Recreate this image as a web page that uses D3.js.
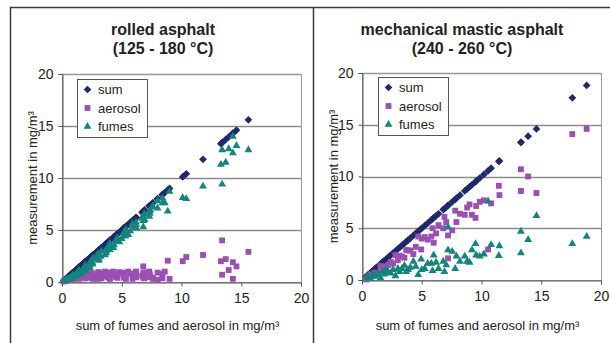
<!DOCTYPE html>
<html>
<head>
<meta charset="utf-8">
<script src="https://cdn.jsdelivr.net/npm/d3@7"></script>
<style>
  body { margin: 0; background: #fff; }
  svg { display: block; font-family: "Liberation Sans", Arial, sans-serif; }
</style>
</head>
<body>
<div id="chart"></div>
<script>
// rolled asphalt samples: fumes and aerosol in mg/m³ (sum = fumes + aerosol)
const rolledFumes = [
  0.08, 0.15, 0.22, 0.28, 0.33, 0.41, 0.45, 0.53, 0.58, 0.66, 0.7, 0.78, 0.84, 0.92,
  0.95, 1.05, 1.12, 1.2, 1.33, 1.38, 1.5, 1.58, 1.7, 1.78,
  1.85, 2.0, 2.08, 2.25, 2.3, 2.45, 2.6, 2.62,
  2.8, 2.95, 3.0, 3.15, 3.3, 3.38, 3.55,
  3.7, 3.85, 3.95, 4.15, 4.25, 4.45,
  4.55, 4.7, 4.9, 5.05, 5.25, 5.35,
  5.5, 5.3, 5.75, 5.9, 6.1,
  6.3, 6.55, 6.6, 6.9, 7.1,
  7.2, 7.6, 7.6, 6.8, 8.05, 8.7,
  1.0, 1.6, 2.2, 2.7, 3.1, 3.6, 4.0, 4.4, 4.8, 5.2, 5.6, 6.0, 6.4, 6.8, 7.3, 7.8,
  8.1, 8.0, 9.2, 14.0, 12.7, 12.8, 12.4, 13.1, 11.3, 11.5, 9.4, 12.7
];
const rolledAerosol = [
  0.05, 0.1, 0.3, 0.15, 0.4, 0.2, 0.55, 0.3, 0.65, 0.25, 0.5, 0.8, 0.35, 0.7,
  0.45, 0.9, 0.3, 0.75, 0.5, 0.95, 0.6, 0.35, 0.85, 0.55,
  0.7, 0.4, 0.95, 0.6, 0.3, 0.8, 1.0, 0.5,
  0.9, 0.35, 0.7, 0.55, 1.0, 0.45, 0.8,
  0.3, 0.95, 0.6, 0.85, 0.4, 0.7,
  1.0, 0.5, 0.8, 0.3, 0.9, 0.6,
  0.7, 1.5, 0.45, 0.9, 0.6,
  1.0, 0.35, 0.75, 0.5, 0.9,
  0.4, 0.8, 1.0, 2.05, 0.35, 0.3,
  0.6, 0.7, 0.9, 0.3, 0.9, 0.4, 0.5, 0.9, 0.4, 1.0, 0.3, 0.9, 0.4, 0.5, 0.3, 0.2,
  2.0, 2.4, 2.6, 0.3, 0.7, 1.15, 1.9, 1.5, 2.0, 2.2, 4.0, 2.9
];

// mechanical mastic asphalt samples
const masticFumes = [
  0.3, 0.25, 0.15, 0.5, 0.35, 0.5, 0.6, 0.2, 0.8, 0.55,
  0.97, 0.75, 0.65, 1.0, 0.4, 1.1, 0.8, 1.1, 1.4, 0.8,
  1.0, 1.2, 1.8, 1.3, 0.5, 2.0, 1.0, 1.1, 1.6, 1.6,
  0.9, 2.4, 1.7, 1.1, 1.8, 0.8, 5.1, 2.9, 1.45, 2.75,
  1.1, 2.3, 1.8, 2.3, 1.8, 1.7, 2.9, 2.4, 3.5, 2.3,
  2.5, 7.6, 3.4, 2.35, 3.3, 4.7, 2.6, 3.9, 6.2, 3.5, 4.2
];
const masticAerosol = [
  0.05, 0.25, 0.55, 0.4, 0.7, 0.65, 0.7, 1.35, 0.9, 1.3,
  1.05, 1.45, 1.75, 1.6, 2.4, 1.9, 2.35, 2.25, 2.15, 2.9,
  2.85, 2.85, 2.5, 3.2, 4.2, 2.95, 4.0, 4.15, 3.9, 4.2,
  5.0, 3.6, 4.5, 5.3, 5.0, 6.1, 2.1, 4.3, 5.6, 4.8,
  6.7, 5.6, 6.4, 6.3, 7.0, 7.3, 6.3, 7.15, 6.0, 7.55,
  7.7, 2.95, 7.4, 9.1, 8.2, 8.6, 10.7, 10.0, 8.4, 14.1, 14.6
];

const axisTicks = [0, 5, 10, 15, 20];
const seriesNames = ["sum", "aerosol", "fumes"];
const seriesColors = ["#1d2a6c", "#9b4fb2", "#12857c"];

const W = 610, H = 343;
const svg = d3.select("#chart").append("svg")
  .attr("width", W).attr("height", H);

// frame around both charts
svg.append("path")
  .attr("d", `M10.5,${H} V7.5 H${W}`)
  .attr("fill", "none").attr("stroke", "#3a3a3a").attr("stroke-width", 1.5);
svg.append("line")
  .attr("x1", 313.5).attr("x2", 313.5).attr("y1", 7.5).attr("y2", H)
  .attr("stroke", "#3a3a3a").attr("stroke-width", 1.5);

const symbols = [
  d3.symbol(d3.symbolSquare, 30),   // drawn rotated -> diamond
  d3.symbol(d3.symbolSquare, 34),
  d3.symbol(d3.symbolTriangle, 27)
];

function drawPanel(cfg) {
  const g = svg.append("g");
  const x = d3.scaleLinear().domain([0, 20]).range([cfg.left, cfg.right]);
  const y = d3.scaleLinear().domain([0, 20]).range([cfg.bottom, cfg.top]);

  // titles
  cfg.title.forEach((t, i) => {
    g.append("text")
      .attr("x", cfg.titleX).attr("y", 35 + i * 19)
      .attr("text-anchor", "middle")
      .style("font-size", "16px").style("font-weight", "bold").style("fill", "#222")
      .text(t);
  });

  // horizontal gridlines
  g.append("g").selectAll("line")
    .data(axisTicks.slice(1))
    .join("line")
    .attr("x1", cfg.left).attr("x2", cfg.right)
    .attr("y1", d => Math.round(y(d)) + 0.5).attr("y2", d => Math.round(y(d)) + 0.5)
    .attr("stroke", "#8a8a8a").attr("stroke-width", 1.3);

  // plot area border
  g.append("rect")
    .attr("x", cfg.left + 0.5).attr("y", Math.round(cfg.top) + 0.5)
    .attr("width", cfg.right - cfg.left).attr("height", cfg.bottom - cfg.top)
    .attr("fill", "none").attr("stroke", "#9a9a9a");

  // axes
  const yAxis = g.append("g")
    .attr("transform", `translate(${cfg.left + 0.5},0)`)
    .call(d3.axisLeft(y).tickValues(axisTicks).tickSize(4).tickPadding(5).tickFormat(d3.format("d")));
  const xAxis = g.append("g")
    .attr("transform", `translate(0,${Math.round(cfg.bottom) + 0.5})`)
    .call(d3.axisBottom(x).tickValues(axisTicks).tickSize(4).tickPadding(7).tickFormat(d3.format("d")));
  [yAxis, xAxis].forEach(a => {
    a.select(".domain").attr("stroke", "#555");
    a.selectAll(".tick line").attr("stroke", "#555");
    a.selectAll(".tick text").style("font-size", "14px").style("fill", "#222")
      .style("font-family", "'Liberation Sans', Arial, sans-serif");
  });

  // axis titles
  g.append("text")
    .attr("transform", `translate(${cfg.yTitleX},${(cfg.top + cfg.bottom) / 2}) rotate(-90)`)
    .attr("text-anchor", "middle").attr("dy", "0.35em")
    .style("font-size", "13px").style("fill", "#222")
    .text("measurement in mg/m³");
  g.append("text")
    .attr("x", (cfg.left + cfg.right) / 2 - 4).attr("y", 330)
    .attr("text-anchor", "middle")
    .style("font-size", "13px").style("fill", "#222")
    .text("sum of fumes and aerosol in mg/m³");

  // points: sum on the diagonal, then aerosol and fumes against the same sum
  const samples = cfg.fumes.map((f, i) => ({ f, a: cfg.aerosol[i], s: f + cfg.aerosol[i] }));
  const series = [
    samples.map(d => [d.s, d.s]),
    samples.map(d => [d.s, d.a]),
    samples.map(d => [d.s, d.f])
  ];
  series.forEach((pts, k) => {
    g.append("g").selectAll("path")
      .data(pts)
      .join("path")
      .attr("d", symbols[k])
      .attr("transform", d => `translate(${x(d[0])},${y(d[1])})` + (k === 0 ? " rotate(45)" : ""))
      .attr("fill", seriesColors[k]);
  });

  // legend
  const lg = g.append("g").attr("transform", `translate(${cfg.legX},${cfg.legY})`);
  lg.append("rect")
    .attr("x", 0.5).attr("y", 0.5).attr("width", 70).attr("height", 58)
    .attr("fill", "#fff").attr("stroke", "#555");
  seriesNames.forEach((name, k) => {
    const cy = 10.5 + k * 18.5;
    lg.append("path")
      .attr("d", symbols[k])
      .attr("transform", `translate(10.5,${cy})` + (k === 0 ? " rotate(45)" : ""))
      .attr("fill", seriesColors[k]);
    lg.append("text")
      .attr("x", 21).attr("y", cy).attr("dy", "0.35em")
      .style("font-size", "13px").style("fill", "#222")
      .text(name);
  });
}

drawPanel({
  title: ["rolled asphalt", "(125 - 180 °C)"], titleX: 163,
  left: 62, right: 301, top: 74, bottom: 282, yTitleX: 32,
  legX: 77, legY: 79,
  fumes: rolledFumes, aerosol: rolledAerosol
});
drawPanel({
  title: ["mechanical mastic asphalt", "(240 - 260 °C)"], titleX: 462,
  left: 362, right: 601, top: 73, bottom: 280, yTitleX: 333,
  legX: 378, legY: 77,
  fumes: masticFumes, aerosol: masticAerosol
});
</script>
</body>
</html>
